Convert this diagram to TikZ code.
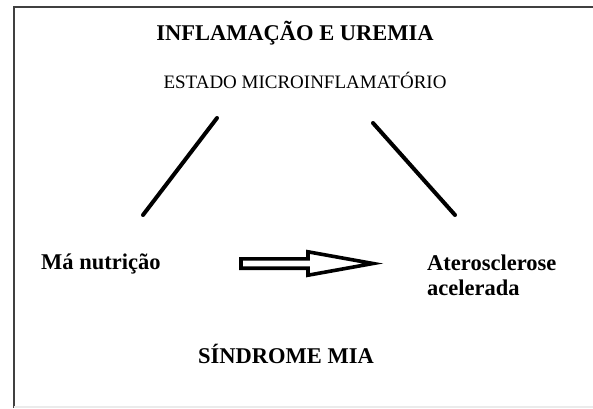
\documentclass[tikz,border=0pt]{standalone}
\usepackage{fontspec}
\setmainfont{Liberation Serif}
\usepackage{tikz}
\usetikzlibrary{calc}
\tikzset{
  titulo/.style ={font=\fontsize{22.5}{25}\selectfont\bfseries, inner sep=0pt, anchor=base},
  rotulo/.style ={font=\fontsize{19}{22}\selectfont, inner sep=0pt, anchor=base},
  link/.style   ={line width=4pt, line cap=round, black},
  seta/.style   ={line width=3.6pt, line join=miter, miter limit=6, black, fill=white},
  moldura/.style={line width=1.6pt, black!75}
}
\begin{document}
\begin{tikzpicture}[x=1pt, y=-1pt]
\useasboundingbox (0,0) rectangle (593,408);
% Frame (cut off at the right)
\draw[moldura] (593,7) -- (14,7) -- (14,408);
\draw[line width=1.4pt, black!8] (14,407) -- (593,407);

% Texts
\node[titulo] (title)    at (295,40)  {INFLAMAÇÃO E UREMIA};
\node[rotulo] (estado)   at (305,88)  {ESTADO MICROINFLAMATÓRIO};
\node[titulo, anchor=base west] (nutricao) at (41,269) {Má nutrição};
\node[titulo, anchor=north west, align=left] (atero) at (427,254.6)
     {Aterosclerose\\acelerada};
\node[titulo] (sindrome) at (286,363) {SÍNDROME MIA};

% Triangle sides
\coordinate (esqA) at (217,118);
\coordinate (esqB) at (143,215);
\coordinate (dirA) at (373,123);
\coordinate (dirB) at (455,215);
\draw[link] (esqA) -- (esqB);
\draw[link] (dirA) -- (dirB);

% Block arrow
\coordinate (setaA) at (241,263.5);
\coordinate (setaB) at (373,263.5);
\draw[seta] ($(setaA)+(0,-4.7)$) -- ($(setaB)+(-65,-4.7)$) -- ($(setaB)+(-65,-11.7)$)
     -- (setaB) -- ($(setaB)+(-65,11.7)$) -- ($(setaB)+(-65,4.7)$)
     -- ($(setaA)+(0,4.7)$) -- cycle;
\end{tikzpicture}
\end{document}
